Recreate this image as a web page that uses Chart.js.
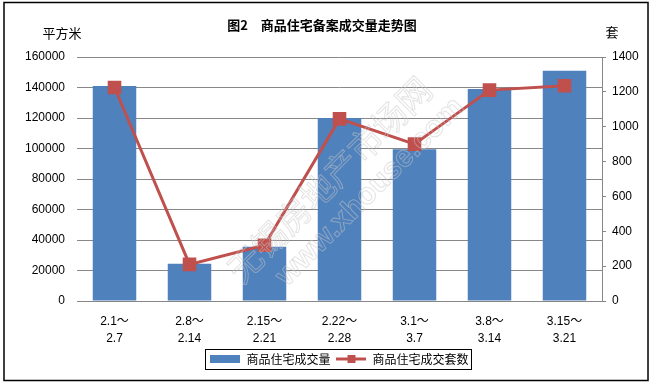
<!DOCTYPE html>
<html lang="zh">
<head>
  <meta charset="UTF-8">
  <title>商品住宅备案成交量走势图</title>
  <script src="https://cdn.jsdelivr.net/npm/chart.js"></script>
  <style>
    body { margin: 0; padding: 0; background: #fff; }
    #wrap { width: 652px; height: 384px; position: relative; }
  </style>
</head>
<body>
  <div id="wrap"><canvas id="chart"></canvas></div>
  <script>
    // weekly periods
    const categories = [
      ['2.1～', '2.7'], ['2.8～', '2.14'], ['2.15～', '2.21'], ['2.22～', '2.28'],
      ['3.1～', '3.7'], ['3.8～', '3.14'], ['3.15～', '3.21']
    ];
    // area in square metres (left axis)
    const areaValues = [141000, 24500, 35500, 120000, 99500, 139000, 151000];
    // number of units (right axis)
    const unitValues = [1225, 210, 320, 1045, 900, 1210, 1235];
    const leftTicks = [0, 20000, 40000, 60000, 80000, 100000, 120000, 140000, 160000];
    const rightTicks = [0, 200, 400, 600, 800, 1000, 1200, 1400];

    const BLUE = '#4F81BD';
    const RED = '#C0504D';
    const GRID = '#878787';
    const FONT = '"Liberation Sans", Arial, "Noto Sans CJK SC", sans-serif';
    const CJK = '"Noto Sans CJK SC", "Liberation Sans", sans-serif';

    // little legend swatches
    function swatchBar() {
      const c = document.createElement('canvas');
      c.width = 30; c.height = 10;
      const g = c.getContext('2d');
      g.fillStyle = BLUE;
      g.fillRect(0, 1, 30, 8);
      return c;
    }
    function swatchLine() {
      const c = document.createElement('canvas');
      c.width = 30; c.height = 10;
      const g = c.getContext('2d');
      g.strokeStyle = RED;
      g.lineWidth = 3;
      g.beginPath(); g.moveTo(0, 5); g.lineTo(30, 5); g.stroke();
      g.fillStyle = RED;
      g.fillRect(11, 1, 8, 8);
      return c;
    }

    const decor = {
      id: 'decor',
      afterDraw(chart) {
        const ctx = chart.ctx;
        ctx.save();

        // watermark
        ctx.translate(335, 185);
        ctx.rotate(-Math.PI / 4);
        ctx.strokeStyle = 'rgba(200,200,200,0.5)';
        ctx.lineWidth = 1;
        ctx.font = '34px ' + CJK;
        ctx.textAlign = 'center';
        ctx.textBaseline = 'middle';
        ctx.strokeText('无锡房地产市场网', 0, -8);
        ctx.font = 'bold 30px ' + FONT;
        ctx.strokeText('www.xhouse.com', 20, 30);
        ctx.setTransform(1, 0, 0, 1, 0, 0);

        // title
        ctx.fillStyle = '#000';
        ctx.textBaseline = 'middle';
        ctx.textAlign = 'center';
        ctx.font = 'bold 13px ' + CJK;
        ctx.fillText('图2　商品住宅备案成交量走势图', 322, 25);

        // axis titles
        ctx.font = '13px ' + CJK;
        ctx.fillText('平方米', 62, 33);
        ctx.fillText('套', 612, 32);

        // legend frame
        const boxes = chart.legend.legendHitBoxes;
        if (boxes && boxes.length) {
          let l = Infinity, r = -Infinity, t = Infinity, b = -Infinity;
          boxes.forEach(h => {
            l = Math.min(l, h.left); r = Math.max(r, h.left + h.width);
            t = Math.min(t, h.top); b = Math.max(b, h.top + h.height);
          });
          ctx.strokeStyle = '#000';
          ctx.lineWidth = 1;
          ctx.strokeRect(Math.round(l - 5) + 0.5, Math.round(t - 4) + 0.5,
                         Math.round(r - l + 8), Math.round(b - t + 8));
        }

        // outer frame
        ctx.strokeStyle = '#000';
        ctx.lineWidth = 1.5;
        ctx.strokeRect(4, 2.5, 644, 378);
        ctx.restore();
      }
    };

    new Chart(document.getElementById('chart'), {
      data: {
        labels: categories,
        datasets: [
          {
            type: 'bar',
            label: '商品住宅成交量',
            data: areaValues,
            backgroundColor: BLUE,
            yAxisID: 'y',
            order: 2,
            categoryPercentage: 1,
            barPercentage: 0.58
          },
          {
            type: 'line',
            label: '商品住宅成交套数',
            data: unitValues,
            borderColor: RED,
            backgroundColor: RED,
            borderWidth: 3,
            pointStyle: 'rect',
            pointRadius: 7.5,
            pointHoverRadius: 7.5,
            tension: 0,
            yAxisID: 'y2',
            order: 1
          }
        ]
      },
      options: {
        responsive: true,
        maintainAspectRatio: false,
        animation: false,
        layout: { padding: { top: 57, left: 0, right: 0, bottom: 9 } },
        plugins: {
          title: { display: false },
          tooltip: { enabled: false },
          legend: {
            position: 'bottom',
            fullSize: false,
            labels: {
              usePointStyle: true,
              pointStyleWidth: 30,
              padding: 6,
              color: '#000',
              font: { size: 12, family: CJK },
              generateLabels() {
                return [
                  { text: '商品住宅成交量', pointStyle: swatchBar(), datasetIndex: 0, lineWidth: 0, fontColor: '#000' },
                  { text: '商品住宅成交套数', pointStyle: swatchLine(), datasetIndex: 1, lineWidth: 0, fontColor: '#000' }
                ];
              }
            }
          }
        },
        scales: {
          x: {
            grid: { display: false, drawTicks: false },
            border: { display: true, color: GRID, width: 1 },
            ticks: {
              color: '#000',
              padding: 12,
              maxRotation: 0,
              font: { size: 12, family: FONT, lineHeight: 17 / 12 }
            },
            afterFit(s) { s.height = 46; }
          },
          y: {
            position: 'left',
            min: 0,
            max: 160000,
            afterBuildTicks(s) { s.ticks = leftTicks.map(v => ({ value: v })); },
            grid: { color: GRID, drawTicks: false },
            border: { display: false },
            ticks: {
              color: '#000',
              padding: 12,
              font: { size: 12, family: FONT },
              callback: v => String(v)
            },
            afterFit(s) { s.width = 77; }
          },
          y2: {
            position: 'right',
            min: 0,
            max: 1400,
            afterBuildTicks(s) { s.ticks = rightTicks.map(v => ({ value: v })); },
            grid: { drawOnChartArea: false, color: GRID, tickLength: 4 },
            border: { display: true, color: GRID, width: 1 },
            ticks: {
              color: '#000',
              padding: 6,
              font: { size: 12, family: FONT },
              callback: v => String(v)
            },
            afterFit(s) { s.width = 50; }
          }
        }
      },
      plugins: [decor]
    });
  </script>
</body>
</html>
